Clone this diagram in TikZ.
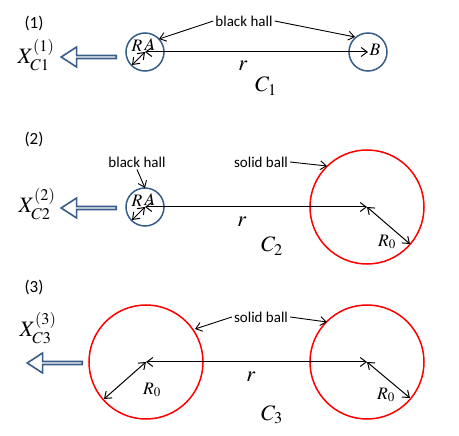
\documentclass[tikz,border=0pt]{standalone}
\usepackage{mathptmx}
\usepackage{fontspec}
\newfontfamily\calibri{Carlito}
\usepackage{tikz}
\usepackage{tkz-euclide}
\usepackage{xcolor}
\usetikzlibrary{shapes.arrows,arrows.meta}
\definecolor{hallblue}{RGB}{56,93,138}
\tikzset{
  txt/.style={font=\calibri\fontsize{15}{18}\selectfont,inner sep=2pt},
  num/.style={font=\calibri\fontsize{17}{20}\selectfont,inner sep=0pt},
  big/.style={font=\fontsize{22}{26}\selectfont,inner sep=0pt},
  mid/.style={font=\fontsize{17.5}{20}\selectfont,inner sep=0pt},
  hall/.style={draw=hallblue,line width=1.5pt},
  ball/.style={draw=red,line width=1.5pt},
  pointer/.style={-{Straight Barb[length=6pt,width=9pt]},line width=0.9pt},
  span/.style={{Straight Barb[length=6pt,width=9pt]}-{Straight Barb[length=6pt,width=9pt]},line width=1pt},
  hollow/.style={single arrow,draw=hallblue,line width=1.6pt,fill=white,
    minimum width=20pt,minimum height=55pt,single arrow head extend=4.5pt,
    single arrow tip angle=66,shape border rotate=180,inner sep=0pt}
}

\begin{document}
\begin{tikzpicture}[x=1pt,y=-1pt]
    \useasboundingbox (0,0) rectangle (459,436);
    % (1) two black halls
    \tkzDefPoint(145,52){A1} \tkzDefPoint(368,52){B1}
    \tkzDefPoint(132,65){E1}
    \tkzDefPoint(159,39){P1} \tkzDefPoint(355,37){Q1}
    \draw[hall] (A1) circle (19) (B1) circle (19);
    \node[num] (n1) at (34,23) {(1)};
    \node[big] (x1) at (36,55) {$X^{(1)}_{C1}$};
    \node[hollow,anchor=tail] (h1) at (117,57) {};
    \node[txt] (t1) at (244,21) {black hall};
    \draw[pointer] (t1.west) -- (P1);
    \draw[pointer] (t1.east) -- (Q1);
    \tkzDrawSegments[span](A1,B1 A1,E1)
    \node[mid] (rr1) at (137,46) {$R$};
    \node[mid] (a1) at (150,45) {$A$};
    \node[mid] (b1) at (375,50) {$B$};
    \node[big] (r1) at (243,66) {$r$};
    \node[big] (c1) at (266,86) {$C_1$};
    % (2) black hall and solid ball
    \tkzDefPoint(145,207){A2} \tkzDefPoint(367,207){S2}
    \tkzDefPoint(132,220){E2} \tkzDefPoint(410,244){F2}
    \tkzDefPoint(145,188){P2} \tkzDefPoint(327,166){Q2}
    \draw[hall] (A2) circle (19);
    \draw[ball] (S2) circle (57);
    \node[num] (n2) at (34,139) {(2)};
    \node[big] (x2) at (37,204) {$X^{(2)}_{C2}$};
    \node[hollow,anchor=tail] (h2) at (117,208) {};
    \node[txt] (t2) at (137,162) {black hall};
    \node[txt] (t3) at (261,162) {solid ball};
    \draw[pointer] (t2.south) -- (P2);
    \draw[pointer] (t3.east) -- (Q2);
    \tkzDrawSegments[span](A2,S2 A2,E2 S2,F2)
    \node[mid] (rr2) at (137,201) {$R$};
    \node[mid] (a2) at (150,200) {$A$};
    \node[mid] (ro2) at (387,242) {$R_0$};
    \node[big] (r2) at (242,222) {$r$};
    \node[big] (c2) at (272,246) {$C_2$};
    % (3) two solid balls
    \tkzDefPoint(146,362){L3} \tkzDefPoint(367,362){R3}
    \tkzDefPoint(104,399){E3} \tkzDefPoint(410,398){F3}
    \tkzDefPoint(195,329){P3} \tkzDefPoint(327,322){Q3}
    \draw[ball] (L3) circle (57) (R3) circle (57);
    \node[num] (n3) at (34,287) {(3)};
    \node[big] (x3) at (38,328) {$X^{(3)}_{C3}$};
    \node[hollow,anchor=tail] (h3) at (83,363) {};
    \node[txt] (t4) at (261,317) {solid ball};
    \draw[pointer] (t4.west) -- (P3);
    \draw[pointer] (t4.east) -- (Q3);
    \tkzDrawSegments[span](L3,R3 L3,E3 R3,F3)
    \node[mid] (ro3) at (152,390) {$R_0$};
    \node[mid] (ro4) at (386,395) {$R_0$};
    \node[big] (r3) at (251,377) {$r$};
    \node[big] (c3) at (272,415) {$C_3$};
\end{tikzpicture}
\end{document}
